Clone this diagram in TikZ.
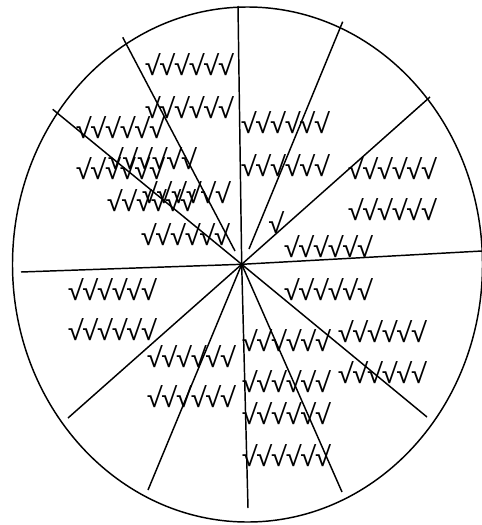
\documentclass[tikz,border=0pt]{standalone}
\usepackage{fontspec}
\setmainfont{Open Sans}
\usepackage{tikz}
\usetikzlibrary{positioning}

\begin{document}
\begin{tikzpicture}[x=0.75pt,y=-0.75pt,
  line/.style={line width=1.1pt,black},
  tick/.style={inner sep=0pt,font=\fontsize{20}{23}\selectfont}
]
\useasboundingbox (0,0) rectangle (482,525);
%--- outline and hub ---
\draw[line] (247.5,264.5) ellipse [x radius=235,y radius=257.5];
\coordinate (hub) at (241.7,264.3);
%--- spoke ends on the rim ---
\coordinate (nN)  at (238,6);
\coordinate (nNW) at (122.7,37.3);
\coordinate (nWNW) at (52.7,109.3);
\coordinate (nNE) at (342.7,21.7);
\coordinate (nENE) at (430,97);
\coordinate (nE)  at (482,251);
\coordinate (nW)  at (21,272);
\coordinate (nWSW) at (68,418);
\coordinate (nSSW) at (148,490);
\coordinate (nS)  at (248,508);
\coordinate (nSSE) at (342,492);
\coordinate (nESE) at (427,417);
% short inner ends
\coordinate (iNW) at (235,251);
\coordinate (iNE) at (249,249);
%--- spokes ---
\draw[line] (hub) -- (nN);
\draw[line] (iNW) -- (nNW);
\draw[line] (hub) -- (nWNW);
\draw[line] (iNE) -- (nNE);
\draw[line] (hub) -- (nENE);
\draw[line] (hub) -- (nE);
\draw[line] (hub) -- (nW);
\draw[line] (hub) -- (nWSW);
\draw[line] (hub) -- (nSSW);
\draw[line] (hub) -- (nS);
\draw[line] (hub) -- (nSSE);
\draw[line] (hub) -- (nESE);
%--- upper left ---
\node[tick] (t1) at (189,65)  {√√√√√√};
\node[tick] (t2) at (189,108) {√√√√√√};
\node[tick] (t3) at (120,128) {√√√√√√};
\node[tick] (t4) at (152,159) {√√√√√√};
\node[tick] (t5) at (120,169) {√√√√√√};
\node[tick] (t6) at (186,193) {√√√√√√};
\node[tick] (t7) at (151,201) {√√√√√√};
\node[tick] (t8) at (185,235) {√√√√√√};
%--- upper right ---
\node[tick] (t9)  at (285,123) {√√√√√√};
\node[tick] (t10) at (285,166) {√√√√√√};
\node[tick] (t11) at (392,169) {√√√√√√};
\node[tick] (t12) at (392,210) {√√√√√√};
\node[tick] (t13) at (276,223) {√};
\node[tick] (t14) at (328,247) {√√√√√√};
%--- lower half ---
\node[tick] (t15) at (112,290) {√√√√√√};
\node[tick] (t16) at (112,330) {√√√√√√};
\node[tick] (t17) at (328,290) {√√√√√√};
\node[tick] (t18) at (382,332) {√√√√√√};
\node[tick] (t19) at (382,373) {√√√√√√};
\node[tick] (t20) at (191,357) {√√√√√√};
\node[tick] (t21) at (191,397) {√√√√√√};
\node[tick] (t22) at (286,341) {√√√√√√};
\node[tick] (t23) at (286,382) {√√√√√√};
\node[tick] (t24) at (286,414) {√√√√√√};
\node[tick] (t25) at (286,456) {√√√√√√};
\end{tikzpicture}
\end{document}
